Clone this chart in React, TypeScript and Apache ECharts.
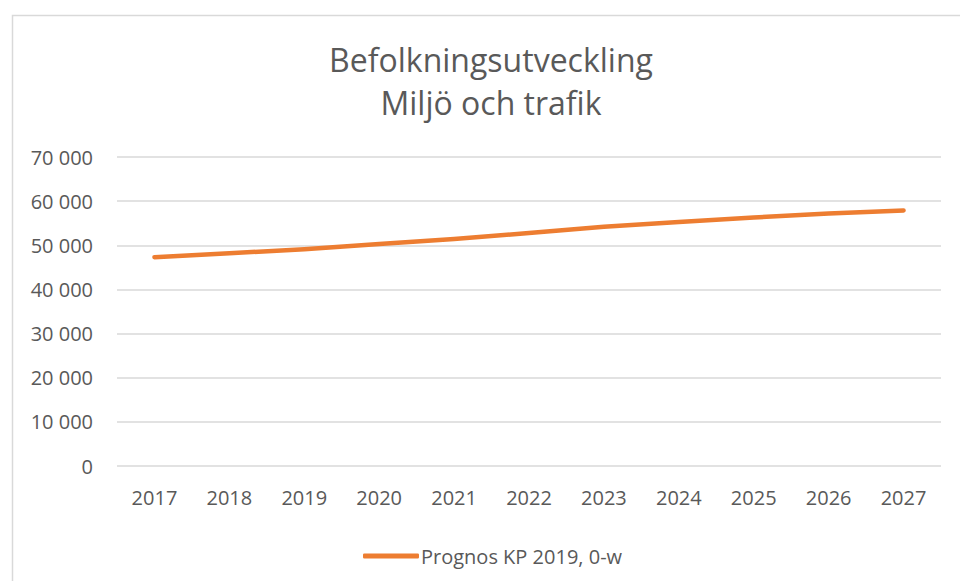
import React, { useEffect, useRef } from "react";
import * as echarts from "echarts";

const years = ["2017", "2018", "2019", "2020", "2021", "2022", "2023", "2024", "2025", "2026", "2027"];
const prognos = [47300, 48200, 49100, 50300, 51400, 52800, 54200, 55300, 56300, 57200, 57900];
const seriesName = "Prognos KP 2019, 0-w";
const titleText = "Befolkningsutveckling\nMiljö och trafik";

const fmt = (v: number) => String(v).replace(/\B(?=(\d{3})+(?!\d))/g, " ");

export default function App() {
  const ref = useRef<HTMLDivElement>(null);
  useEffect(() => {
    document.body.style.margin = "0";
    const chart = echarts.init(ref.current!, null, { renderer: "svg" });
    const font = "'Open Sans', sans-serif";
    chart.setOption({
      animation: false,
      backgroundColor: "#ffffff",
      textStyle: { fontFamily: font },
      graphic: [
        {
          type: "rect",
          left: 10,
          top: 13,
          shape: { x: 0, y: 0, width: 1000, height: 620 },
          style: { fill: "none", stroke: "#d9d9d9", lineWidth: 1.5 },
          silent: true,
          z: -1,
        },
      ],
      title: {
        text: titleText,
        left: 486,
        textAlign: "center",
        top: 33,
        textStyle: {
          fontFamily: font,
          fontSize: 32,
          fontWeight: "normal",
          color: "#595959",
          lineHeight: 43,
        },
      },
      legend: {
        left: 358,
        top: 541,
        itemWidth: 56,
        itemHeight: 5,
        itemGap: 10,
        icon: "roundRect",
        textStyle: { fontFamily: font, fontSize: 20, color: "#595959", padding: [0, 0, 0, -3] },
        data: [seriesName],
      },
      grid: { left: 117, right: 19, top: 157, bottom: 115, containLabel: false },
      xAxis: {
        type: "category",
        data: years,
        boundaryGap: true,
        axisLine: { show: false },
        axisTick: { show: false },
        axisLabel: { fontFamily: font, fontSize: 20, color: "#595959", margin: 21 },
      },
      yAxis: {
        type: "value",
        min: 0,
        max: 70000,
        interval: 10000,
        axisLine: { show: false },
        axisTick: { show: false },
        splitLine: { lineStyle: { color: "#d9d9d9", width: 1.5 } },
        axisLabel: {
          fontFamily: font,
          fontSize: 20,
          color: "#595959",
          margin: 24,
          formatter: (v: number) => fmt(v),
        },
      },
      series: [
        {
          name: seriesName,
          type: "line",
          data: prognos,
          showSymbol: false,
          symbol: "none",
          itemStyle: { color: "#ED7D31" },
          lineStyle: { color: "#ED7D31", width: 4.5, cap: "round", join: "round" },
        },
      ],
    });
    return () => chart.dispose();
  }, []);
  return <div ref={ref} style={{ width: 960, height: 581 }} />;
}
